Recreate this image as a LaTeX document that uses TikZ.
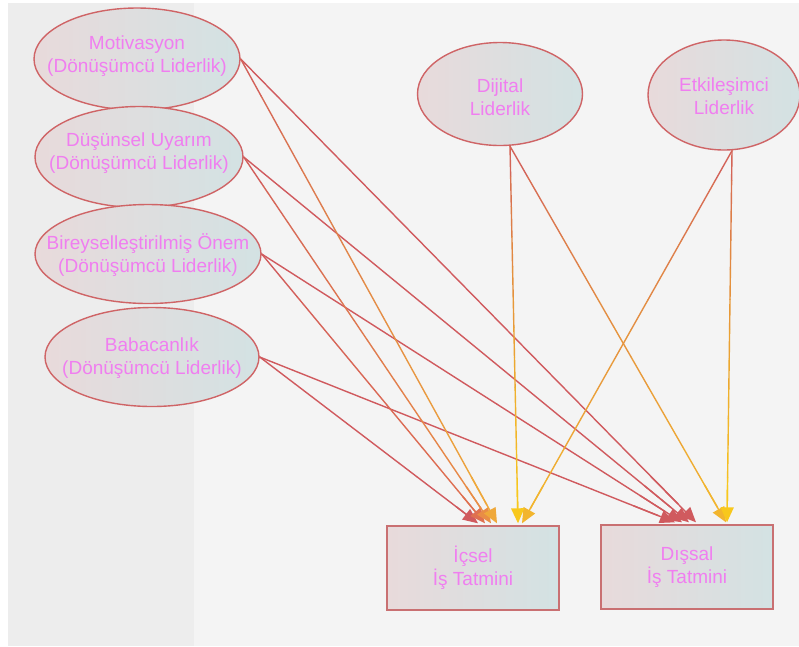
\documentclass[tikz,border=0pt]{standalone}
\usepackage{fontspec}
\setmainfont{Liberation Sans}
\usetikzlibrary{shapes.geometric}
\usetikzlibrary{arrows.meta}
\usetikzlibrary{calc}

\definecolor{pagegrey}{HTML}{F4F4F4}
\definecolor{stripgrey}{HTML}{EDEDED}
\definecolor{rimred}{HTML}{CF6466}
\definecolor{boxrim}{HTML}{C97072}
\definecolor{edgered}{HTML}{D05A5E}
\definecolor{fillpink}{HTML}{E8DADB}
\definecolor{fillblue}{HTML}{D3E2E3}
\definecolor{labelpink}{HTML}{F07EF0}
\definecolor{endamber}{HTML}{EFA83A}
\definecolor{endorange}{HTML}{E98D45}
\definecolor{endcoral}{HTML}{DF7050}
\definecolor{endgold}{HTML}{F8C81C}
\definecolor{endyellow}{HTML}{F2B52E}

\tikzset{
  bubble/.style={ellipse, draw=rimred, line width=1.4pt, left color=fillpink, right color=fillblue, inner sep=0pt},
  panel/.style={rectangle, draw=boxrim, line width=1.4pt, left color=fillpink, right color=fillblue, minimum width=172pt, minimum height=84pt, align=center, text=labelpink, font=\fontsize{19}{23}\selectfont},
  lbl/.style={align=center, text=labelpink, font=\fontsize{19}{22.5}\selectfont, inner sep=0pt},
  edge/.style={line width=1.4pt, line cap=round},
}

% connector that fades from red into its end colour
\newcommand{\gradedge}[3]{%
  \foreach \k in {0,...,11}{%
    \pgfmathtruncatemacro{\mix}{100*((\k+0.5)/12)^0.7}%
    \pgfmathtruncatemacro{\kk}{\k+1}%
    \draw[edge, color=#3!\mix!edgered] ($(#1)!\k*0.08!(#2)$) -- ($(#1)!\kk*0.08!(#2)$);
  }%
  \draw[edge, color=#3, -{Triangle[length=15pt,width=13pt]}] ($(#1)!0.9!(#2)$) -- (#2);
}

\begin{document}
\begin{tikzpicture}[x=1pt, y=-1pt]
\useasboundingbox (0,0) rectangle (799,646);

% backdrop
\fill[white] (0,0) rectangle (799,646);
\fill[pagegrey] (8,3) rectangle (799,646);
\fill[stripgrey] (8,3) rectangle (194,646);

% transformational leadership
\node[bubble, minimum width=206pt, minimum height=102pt] (mot) at (137,59) {};
\node[lbl] (mot-t) at (137,56) {Motivasyon\\(Dönüşümcü Liderlik)};
\node[bubble, minimum width=208pt, minimum height=101pt] (dus) at (139,157) {};
\node[lbl] (dus-t) at (139,153) {Düşünsel Uyarım\\(Dönüşümcü Liderlik)};
\node[bubble, minimum width=226pt, minimum height=99pt] (bir) at (148,254) {};
\node[lbl] (bir-t) at (148,255) {Bireyselleştirilmiş Önem\\(Dönüşümcü Liderlik)};
\node[bubble, minimum width=214pt, minimum height=99pt] (bab) at (152,357) {};
\node[lbl] (bab-t) at (152,358) {Babacanlık\\(Dönüşümcü Liderlik)};

% other leadership styles
\node[bubble, minimum width=165pt, minimum height=103pt] (dij) at (500,94) {};
\node[lbl] (dij-t) at (500,97) {Dijital\\Liderlik};
\node[bubble, minimum width=152pt, minimum height=110pt] (etk) at (724,95) {};
\node[lbl] (etk-t) at (724,96) {Etkileşimci\\Liderlik};

% job satisfaction
\node[panel] (ics) at (473,568) {İçsel\\İş Tatmini};
\node[panel] (dis) at (687,567) {Dışsal\\İş Tatmini};

% arrow ends
\foreach \s/\dx in {bab/5,bir/12,dus/18,mot/24,dij/45,etk/49}
  \coordinate (ics-\s) at ([xshift=\dx pt, yshift=2pt]ics.north);
\foreach \s/\dx in {bab/-12,bir/-5,dus/2,mot/9,dij/39,etk/40}
  \coordinate (dis-\s) at ([xshift=\dx pt, yshift=2pt]dis.north);
\coordinate (dij-o) at ([xshift=10pt]dij.south);
\coordinate (etk-o) at ([xshift=8pt]etk.south);

% connectors
\gradedge{mot.east}{dis-mot}{edgered}
\gradedge{dus.east}{dis-dus}{edgered}
\gradedge{bir.east}{dis-bir}{edgered}
\gradedge{bab.east}{dis-bab}{edgered}
\gradedge{bab.east}{ics-bab}{edgered}
\gradedge{bir.east}{ics-bir}{endcoral}
\gradedge{dus.east}{ics-dus}{endorange}
\gradedge{mot.east}{ics-mot}{endamber}
\gradedge{dij-o}{dis-dij}{endyellow}
\gradedge{etk-o}{ics-etk}{endyellow}
\gradedge{dij-o}{ics-dij}{endgold}
\gradedge{etk-o}{dis-etk}{endgold}
\end{tikzpicture}
\end{document}
